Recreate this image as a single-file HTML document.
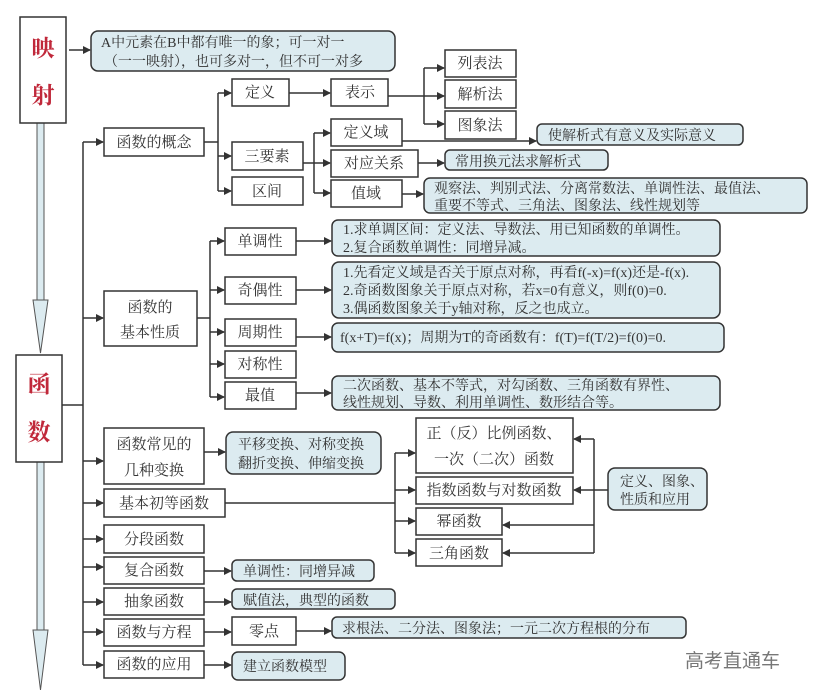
<!DOCTYPE html>
<html><head><meta charset="utf-8"><style>
body{margin:0;background:#fff}
svg{display:block}
text{font-family:"Liberation Serif","Noto Serif CJK SC","Noto Sans CJK SC",serif;font-size:14px;fill:#333}
text.c{font-size:15px}
.b{fill:#fff;stroke:#333;stroke-width:1.5}
.u{fill:#dcebf0;stroke:#333;stroke-width:1.5}
.l{fill:none;stroke:#333;stroke-width:1.5}
</style></head><body>
<svg width="822" height="700" viewBox="0 0 822 700" xmlns="http://www.w3.org/2000/svg">
<defs><marker id="a" markerWidth="8" markerHeight="8" refX="7" refY="4" orient="auto" markerUnits="userSpaceOnUse"><path d="M0,0 L8,4 L0,8 z" fill="#333"/></marker></defs>
<rect x="37" y="120" width="7" height="185" fill="#dcebf0" stroke="#555"/>
<path d="M33,300 L48,300 L40.5,353 z" fill="#dcebf0" stroke="#555"/>
<rect x="37" y="462" width="7" height="170" fill="#dcebf0" stroke="#555"/>
<path d="M33,630 L48,630 L40.5,690 z" fill="#dcebf0" stroke="#555"/>
<rect class="b" x="20" y="17" width="46" height="106"/>
<text x="43" y="56" text-anchor="middle" style="font-size:23px;fill:#c0283a;font-weight:bold">映</text>
<text x="43" y="103" text-anchor="middle" style="font-size:23px;fill:#c0283a;font-weight:bold">射</text>
<rect class="b" x="16" y="355" width="46" height="107"/>
<text x="39" y="392" text-anchor="middle" style="font-size:23px;fill:#c0283a;font-weight:bold">函</text>
<text x="39" y="440" text-anchor="middle" style="font-size:23px;fill:#c0283a;font-weight:bold">数</text>
<line class="l" x1="69" y1="50" x2="90" y2="50" marker-end="url(#a)"/>
<rect class="u" x="91" y="31" width="304" height="40" rx="7"/>
<text x="101" y="47">A中元素在B中都有唯一的象；可一对一</text>
<text x="104" y="66">（一一映射），也可多对一，但不可一对多</text>
<path class="l" d="M62,405 H83 M83,142 V665"/>
<line class="l" x1="83" y1="142" x2="103" y2="142" marker-end="url(#a)"/>
<line class="l" x1="83" y1="318" x2="103" y2="318" marker-end="url(#a)"/>
<line class="l" x1="83" y1="461" x2="103" y2="461" marker-end="url(#a)"/>
<line class="l" x1="83" y1="503" x2="103" y2="503" marker-end="url(#a)"/>
<line class="l" x1="83" y1="539" x2="103" y2="539" marker-end="url(#a)"/>
<line class="l" x1="83" y1="567" x2="103" y2="567" marker-end="url(#a)"/>
<line class="l" x1="83" y1="602" x2="103" y2="602" marker-end="url(#a)"/>
<line class="l" x1="83" y1="632" x2="103" y2="632" marker-end="url(#a)"/>
<line class="l" x1="83" y1="665" x2="103" y2="665" marker-end="url(#a)"/>
<rect class="b" x="104" y="128" width="100" height="28"/><text class="c" x="154" y="147" text-anchor="middle">函数的概念</text>
<path class="l" d="M204,142 H218 M218,93 V191"/>
<line class="l" x1="218" y1="93" x2="231" y2="93" marker-end="url(#a)"/>
<line class="l" x1="218" y1="156" x2="231" y2="156" marker-end="url(#a)"/>
<line class="l" x1="218" y1="191" x2="231" y2="191" marker-end="url(#a)"/>
<rect class="b" x="232" y="79" width="57" height="27"/><text class="c" x="260" y="97" text-anchor="middle">定义</text>
<rect class="b" x="232" y="142" width="71" height="28"/><text class="c" x="267" y="161" text-anchor="middle">三要素</text>
<rect class="b" x="232" y="177" width="71" height="28"/><text class="c" x="267" y="196" text-anchor="middle">区间</text>
<line class="l" x1="289" y1="93" x2="330" y2="93" marker-end="url(#a)"/>
<rect class="b" x="331" y="79" width="57" height="27"/><text class="c" x="360" y="97" text-anchor="middle">表示</text>
<path class="l" d="M388,96 H424 M424,68 V124"/>
<line class="l" x1="424" y1="68" x2="444" y2="68" marker-end="url(#a)"/>
<line class="l" x1="424" y1="96" x2="444" y2="96" marker-end="url(#a)"/>
<line class="l" x1="424" y1="124" x2="444" y2="124" marker-end="url(#a)"/>
<rect class="b" x="445" y="50" width="71" height="27"/><text class="c" x="480" y="68" text-anchor="middle">列表法</text>
<rect class="b" x="445" y="80" width="71" height="28"/><text class="c" x="480" y="99" text-anchor="middle">解析法</text>
<rect class="b" x="445" y="111" width="71" height="28"/><text class="c" x="480" y="130" text-anchor="middle">图象法</text>
<path class="l" d="M303,163 H314 M314,133 V193"/>
<line class="l" x1="314" y1="133" x2="330" y2="133" marker-end="url(#a)"/>
<line class="l" x1="314" y1="163" x2="330" y2="163" marker-end="url(#a)"/>
<line class="l" x1="314" y1="193" x2="330" y2="193" marker-end="url(#a)"/>
<rect class="b" x="331" y="119" width="71" height="27"/><text class="c" x="366" y="137" text-anchor="middle">定义域</text>
<rect class="b" x="331" y="150" width="87" height="27"/><text class="c" x="374" y="168" text-anchor="middle">对应关系</text>
<rect class="b" x="331" y="180" width="71" height="27"/><text class="c" x="366" y="198" text-anchor="middle">值域</text>
<line class="l" x1="402" y1="141" x2="536" y2="141" marker-end="url(#a)"/>
<rect class="u" x="537" y="124" width="206" height="21" rx="5"/><text x="548" y="140">使解析式有意义及实际意义</text>
<line class="l" x1="418" y1="163" x2="444" y2="163" marker-end="url(#a)"/>
<rect class="u" x="445" y="150" width="163" height="20" rx="5"/><text x="455" y="166">常用换元法求解析式</text>
<line class="l" x1="402" y1="194" x2="423" y2="194" marker-end="url(#a)"/>
<rect class="u" x="424" y="178" width="383" height="35" rx="6"/>
<text x="434" y="193">观察法、判别式法、分离常数法、单调性法、最值法、</text>
<text x="434" y="210">重要不等式、三角法、图象法、线性规划等</text>
<rect class="b" x="104" y="291" width="93" height="55"/>
<text class="c" x="150" y="312" text-anchor="middle">函数的</text><text class="c" x="150" y="337" text-anchor="middle">基本性质</text>
<path class="l" d="M197,318 H210 M210,241 V397"/>
<line class="l" x1="210" y1="241" x2="224" y2="241" marker-end="url(#a)"/>
<line class="l" x1="210" y1="290" x2="224" y2="290" marker-end="url(#a)"/>
<line class="l" x1="210" y1="332" x2="224" y2="332" marker-end="url(#a)"/>
<line class="l" x1="210" y1="364" x2="224" y2="364" marker-end="url(#a)"/>
<line class="l" x1="210" y1="397" x2="224" y2="397" marker-end="url(#a)"/>
<rect class="b" x="225" y="228" width="71" height="27"/><text class="c" x="260" y="246" text-anchor="middle">单调性</text>
<rect class="b" x="225" y="277" width="71" height="27"/><text class="c" x="260" y="295" text-anchor="middle">奇偶性</text>
<rect class="b" x="225" y="319" width="71" height="27"/><text class="c" x="260" y="337" text-anchor="middle">周期性</text>
<rect class="b" x="225" y="351" width="71" height="27"/><text class="c" x="260" y="369" text-anchor="middle">对称性</text>
<rect class="b" x="225" y="382" width="71" height="27"/><text class="c" x="260" y="400" text-anchor="middle">最值</text>
<line class="l" x1="296" y1="241" x2="331" y2="241" marker-end="url(#a)"/>
<line class="l" x1="296" y1="290" x2="331" y2="290" marker-end="url(#a)"/>
<line class="l" x1="296" y1="337" x2="331" y2="337" marker-end="url(#a)"/>
<line class="l" x1="296" y1="393" x2="331" y2="393" marker-end="url(#a)"/>
<rect class="u" x="332" y="220" width="388" height="36" rx="6"/>
<text x="343" y="234">1.求单调区间：定义法、导数法、用已知函数的单调性。</text>
<text x="343" y="252">2.复合函数单调性：同增异减。</text>
<rect class="u" x="332" y="262" width="388" height="56" rx="7"/>
<text x="343" y="277">1.先看定义域是否关于原点对称，再看f(-x)=f(x)还是-f(x).</text>
<text x="343" y="295">2.奇函数图象关于原点对称，若x=0有意义，则f(0)=0.</text>
<text x="343" y="313">3.偶函数图象关于y轴对称，反之也成立。</text>
<rect class="u" x="332" y="323" width="392" height="29" rx="6"/>
<text x="340" y="342">f(x+T)=f(x)；周期为T的奇函数有：f(T)=f(T/2)=f(0)=0.</text>
<rect class="u" x="332" y="376" width="388" height="34" rx="6"/>
<text x="343" y="390">二次函数、基本不等式，对勾函数、三角函数有界性、</text>
<text x="343" y="407">线性规划、导数、利用单调性、数形结合等。</text>
<rect class="b" x="104" y="428" width="100" height="56"/>
<text class="c" x="154" y="449" text-anchor="middle">函数常见的</text><text class="c" x="154" y="475" text-anchor="middle">几种变换</text>
<line class="l" x1="204" y1="452" x2="225" y2="452" marker-end="url(#a)"/>
<rect class="u" x="226" y="432" width="155" height="42" rx="7"/>
<text x="238" y="449">平移变换、对称变换</text><text x="238" y="468">翻折变换、伸缩变换</text>
<rect class="b" x="104" y="489" width="121" height="28"/><text class="c" x="164" y="508" text-anchor="middle">基本初等函数</text>
<path class="l" d="M225,503 H395 M395,453 V553"/>
<line class="l" x1="395" y1="453" x2="415" y2="453" marker-end="url(#a)"/>
<line class="l" x1="395" y1="490" x2="415" y2="490" marker-end="url(#a)"/>
<line class="l" x1="395" y1="521" x2="415" y2="521" marker-end="url(#a)"/>
<line class="l" x1="395" y1="553" x2="415" y2="553" marker-end="url(#a)"/>
<rect class="b" x="416" y="418" width="157" height="55"/>
<text class="c" x="494" y="438" text-anchor="middle">正（反）比例函数、</text><text class="c" x="494" y="464" text-anchor="middle">一次（二次）函数</text>
<rect class="b" x="416" y="477" width="157" height="27"/><text class="c" x="494" y="495" text-anchor="middle">指数函数与对数函数</text>
<rect class="b" x="416" y="508" width="86" height="27"/><text class="c" x="459" y="526" text-anchor="middle">幂函数</text>
<rect class="b" x="416" y="539" width="86" height="27"/><text class="c" x="459" y="558" text-anchor="middle">三角函数</text>
<path class="l" d="M608,490 H594 M594,439 V553"/>
<line class="l" x1="594" y1="439" x2="574" y2="439" marker-end="url(#a)"/>
<line class="l" x1="594" y1="490" x2="574" y2="490" marker-end="url(#a)"/>
<line class="l" x1="594" y1="525" x2="503" y2="525" marker-end="url(#a)"/>
<line class="l" x1="594" y1="553" x2="503" y2="553" marker-end="url(#a)"/>
<rect class="u" x="608" y="468" width="99" height="42" rx="7"/>
<text x="620" y="486">定义、图象、</text><text x="620" y="504">性质和应用</text>
<rect class="b" x="104" y="525" width="100" height="28"/><text class="c" x="154" y="544" text-anchor="middle">分段函数</text>
<rect class="b" x="104" y="557" width="100" height="27"/><text class="c" x="154" y="575" text-anchor="middle">复合函数</text>
<rect class="b" x="104" y="588" width="100" height="27"/><text class="c" x="154" y="606" text-anchor="middle">抽象函数</text>
<rect class="b" x="104" y="619" width="100" height="27"/><text class="c" x="154" y="637" text-anchor="middle">函数与方程</text>
<rect class="b" x="104" y="651" width="100" height="27"/><text class="c" x="154" y="669" text-anchor="middle">函数的应用</text>
<line class="l" x1="204" y1="571" x2="231" y2="571" marker-end="url(#a)"/>
<rect class="u" x="232" y="560" width="142" height="21" rx="5"/><text x="243" y="576">单调性：同增异减</text>
<line class="l" x1="204" y1="602" x2="231" y2="602" marker-end="url(#a)"/>
<rect class="u" x="232" y="589" width="163" height="20" rx="5"/><text x="243" y="605">赋值法，典型的函数</text>
<line class="l" x1="204" y1="632" x2="231" y2="632" marker-end="url(#a)"/>
<rect class="b" x="232" y="617" width="64" height="28"/><text class="c" x="264" y="636" text-anchor="middle">零点</text>
<line class="l" x1="296" y1="631" x2="331" y2="631" marker-end="url(#a)"/>
<rect class="u" x="332" y="617" width="354" height="21" rx="5"/><text x="342" y="633">求根法、二分法、图象法；一元二次方程根的分布</text>
<line class="l" x1="204" y1="665" x2="231" y2="665" marker-end="url(#a)"/>
<rect class="u" x="232" y="652" width="113" height="28" rx="6"/><text x="243" y="671">建立函数模型</text>
<text x="685" y="667" style="font-family:'Liberation Sans','Noto Sans CJK SC',sans-serif;font-size:19px;fill:#777">高考直通车</text>
</svg>
</body></html>
